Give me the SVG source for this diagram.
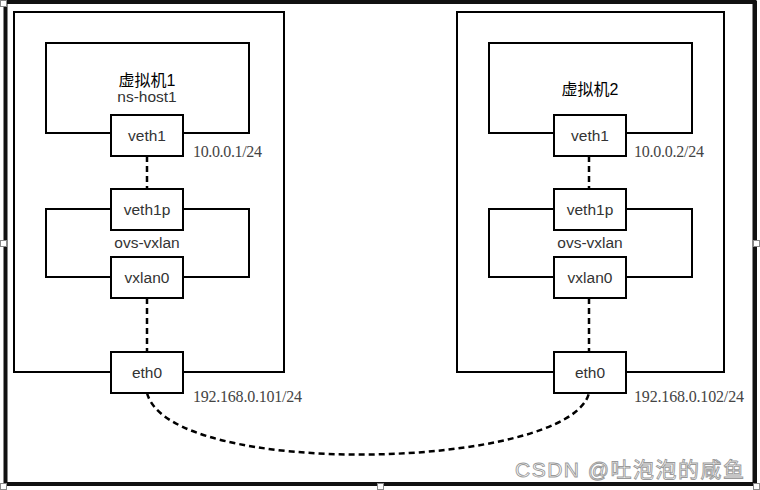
<svg xmlns="http://www.w3.org/2000/svg" width="760" height="490" viewBox="0 0 760 490">
<style>
.frame{fill:#fff;stroke:#111;stroke-width:4}
.box{fill:none;stroke:#000;stroke-width:2}
.port{fill:#fff;stroke:#000;stroke-width:2}
.lbl{font-family:"Liberation Sans",Arial,sans-serif;font-size:15.5px;fill:#333;text-anchor:middle}
.title{font-family:"Liberation Sans","Noto Sans CJK SC",sans-serif;font-size:16px;fill:#000;text-anchor:middle}
.ip{font-family:"Liberation Serif","Times New Roman",serif;font-size:16px;fill:#444}
.dash{fill:none;stroke:#000;stroke-width:2.5;stroke-dasharray:6 4}
.handle{fill:#fff;stroke:#888;stroke-width:1}
.wm{font-family:"Liberation Sans","Noto Sans CJK SC",sans-serif;font-size:21px;fill:#fff;stroke:#999;stroke-width:0.9}
</style>
<rect x="0" y="0" width="760" height="490" fill="#fff"/>
<rect class="frame" x="5.5" y="2" width="749" height="482"/>
<line x1="4" y1="484.5" x2="757" y2="484.5" stroke="#111" stroke-width="3"/>
<line x1="755.5" y1="1" x2="755.5" y2="486" stroke="#111" stroke-width="3"/>

<g id="connectors">
<line class="dash" x1="147" y1="156" x2="147" y2="189"/>
<line class="dash" x1="147" y1="298" x2="147" y2="352"/>
<line class="dash" x1="589" y1="156" x2="589" y2="189"/>
<line class="dash" x1="589" y1="298" x2="589" y2="352"/>
<path class="dash" d="M147,393 C170,480 570,470 589,393"/>
</g>

<g id="host1">
<rect class="box" x="14" y="12" width="270" height="360"/>
</g>
<g id="vm1">
<rect class="box" x="46" y="43" width="203" height="90"/>
<text class="title" x="147" y="86">虚拟机1</text>
<text class="lbl" x="147" y="102">ns-host1</text>
</g>
<g id="ovs1">
<rect class="box" x="46" y="209" width="203" height="68"/>
<text class="lbl" x="147" y="248">ovs-vxlan</text>
</g>
<g id="veth1-a"><rect class="port" x="111" y="115" width="72" height="41"/><text class="lbl" x="147" y="141">veth1</text></g>
<g id="veth1p-a"><rect class="port" x="111" y="189" width="72" height="41"/><text class="lbl" x="147" y="215">veth1p</text></g>
<g id="vxlan0-a"><rect class="port" x="111" y="257" width="72" height="41"/><text class="lbl" x="147" y="283">vxlan0</text></g>
<g id="eth0-a"><rect class="port" x="111" y="352" width="72" height="41"/><text class="lbl" x="147" y="378">eth0</text></g>
<text class="ip" x="193" y="157" textLength="69">10.0.0.1/24</text>
<text class="ip" x="193" y="402" textLength="109">192.168.0.101/24</text>

<g id="host2">
<rect class="box" x="457" y="12" width="267" height="360"/>
</g>
<g id="vm2">
<rect class="box" x="489" y="43" width="203" height="90"/>
<text class="title" x="590" y="95">虚拟机2</text>
</g>
<g id="ovs2">
<rect class="box" x="489" y="209" width="203" height="68"/>
<text class="lbl" x="590" y="248">ovs-vxlan</text>
</g>
<g id="veth1-b"><rect class="port" x="554" y="115" width="72" height="41"/><text class="lbl" x="590" y="141">veth1</text></g>
<g id="veth1p-b"><rect class="port" x="554" y="189" width="72" height="41"/><text class="lbl" x="590" y="215">veth1p</text></g>
<g id="vxlan0-b"><rect class="port" x="554" y="257" width="72" height="41"/><text class="lbl" x="590" y="283">vxlan0</text></g>
<g id="eth0-b"><rect class="port" x="554" y="352" width="72" height="41"/><text class="lbl" x="590" y="378">eth0</text></g>
<text class="ip" x="634" y="157" textLength="70">10.0.0.2/24</text>
<text class="ip" x="634" y="402" textLength="110">192.168.0.102/24</text>

<text class="wm" x="515" y="477" textLength="229">CSDN @吐泡泡的咸鱼</text>

<g id="handles">
<rect class="handle" x="0.5" y="0.5" width="6" height="6"/>
<rect class="handle" x="0.5" y="240.5" width="6" height="6"/>
<rect class="handle" x="753.5" y="240.5" width="6" height="6"/>
<rect class="handle" x="0.5" y="483.5" width="6" height="6"/>
<rect class="handle" x="377.5" y="483.5" width="6" height="6"/>
<rect class="handle" x="753.5" y="483.5" width="6" height="6"/>
</g>
</svg>
